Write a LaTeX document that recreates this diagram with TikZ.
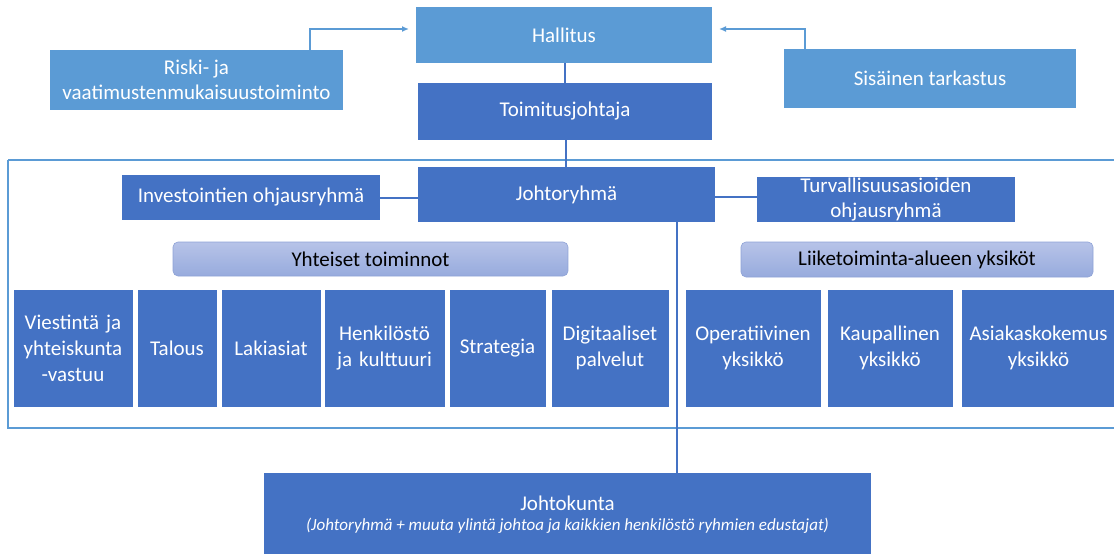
\documentclass[tikz,border=0pt]{standalone}
\usepackage{fontspec}
\setmainfont{Carlito}
\usetikzlibrary{arrows.meta}
\definecolor{lb}{HTML}{5B9BD5}
\definecolor{db}{HTML}{4472C4}
\definecolor{lavt}{HTML}{B7C3E8}
\definecolor{lavb}{HTML}{97ABDD}
\definecolor{lavd}{HTML}{8EA2D6}
\begin{document}
\begin{tikzpicture}[x=1pt,y=-1pt,
  base/.style={inner sep=2pt, text=white, font=\fontsize{21}{26}\selectfont, align=center, outer sep=0pt},
  light/.style={base, fill=lb},
  dark/.style={base, fill=db},
  unit/.style={dark, draw=white, line width=0.6pt, minimum height=118pt, text width=#1-4pt, minimum width=#1},
  band/.style={rounded corners=5pt, draw=lavd, line width=0.6pt, top color=lavt, bottom color=lavb, text=black, font=\fontsize{21}{26}\selectfont, inner sep=0pt},
  conn/.style={draw=db, line width=2.2pt},
  lconn/.style={draw=lb, line width=2pt},
  arr/.style={lconn, -{Latex[length=7pt,width=6pt]}}
]
\useasboundingbox (0,0) rectangle (1114,554);
% frame
\draw[lb, line width=2.4pt] (8,160) -- (1120,160) (8,160) -- (8,428) -- (1120,428);
% top
\node[light, minimum width=296pt, minimum height=56pt] (hal) at (564,35) {Hallitus};
\node[dark, minimum width=294pt, minimum height=57pt] (toj) at (565,111.5) {Toimitusjohtaja};
\node[light, minimum width=293pt, minimum height=60pt] (ris) at (196.5,80) {Riski- ja\\[-1pt]vaatimustenmukaisuustoiminto};
\node[light, minimum width=292pt, minimum height=59pt] (sis) at (930,78.5) {Sisäinen tarkastus};
\coordinate (risk) at (310,50);
\coordinate (sisk) at (805,49);
\draw[arr] (risk) |- ([xshift=-7pt]hal.west |- 0,29);
\draw[arr] (sisk) |- ([xshift=7pt]hal.east |- 0,29);
% management
\node[dark, minimum width=297pt, minimum height=55pt] (jr) at (566.5,194.5) {Johtoryhmä};
\node[dark, minimum width=258pt, minimum height=45pt] (inv) at (251,197.5) {Investointien ohjausryhmä};
\node[dark, minimum width=258pt, minimum height=45pt, inner sep=0pt] (tur) at (886,199.5) {Turvallisuusasioiden\\[-1pt]ohjausryhmä};
\draw[conn] (hal.south -| 565,0) -- (toj.north -| 565,0);
\draw[conn] (toj.south -| 566,0) -- (jr.north -| 566,0);
\draw[conn] (inv.east |- 0,198) -- (jr.west |- 0,198);
\draw[conn] (jr.east |- 0,197) -- (tur.west |- 0,197);
% bands
\node[band, minimum width=395pt, minimum height=34pt] (yht) at (370.5,259) {Yhteiset toiminnot};
\node[band, minimum width=352pt, minimum height=35pt] (lii) at (917,259.5) {Liiketoiminta-alueen yksiköt};
% units
\node[unit=120pt] (vie) at (73,348) {Viestintä ja\\yhteiskunta\\-vastuu};
\node[unit=80pt] (tal) at (177,348) {Talous};
\node[unit=100pt] (lak) at (271,348) {Lakiasiat};
\node[unit=121pt] (hen) at (384.5,348) {Henkilöstö\\ja kulttuuri};
\node[unit=97pt] (str) at (497.5,348) {Strategia};
\node[unit=118pt] (dig) at (610,348) {Digitaaliset\\palvelut};
\node[unit=136pt] (ope) at (753,348) {Operatiivinen\\yksikkö};
\node[unit=126pt] (kau) at (890,348) {Kaupallinen\\yksikkö};
\node[unit=155pt] (asi) at (1038.5,348) {Asiakaskokemus\\yksikkö};
% johtokunta
\node[dark, minimum width=607pt, minimum height=82pt] (jk) at (567.5,514) {};
\node[text=white, font=\fontsize{21}{26}\selectfont] (jkt) at (567.5,503) {Johtokunta};
\node[text=white, font=\fontsize{17}{20}\selectfont\itshape] (jks) at (567.5,526) {(Johtoryhmä + muuta ylintä johtoa ja kaikkien henkilöstö ryhmien edustajat)};
\draw[conn] (jr.south -| 677,0) -- (jk.north -| 677,0);
\end{tikzpicture}
\end{document}
